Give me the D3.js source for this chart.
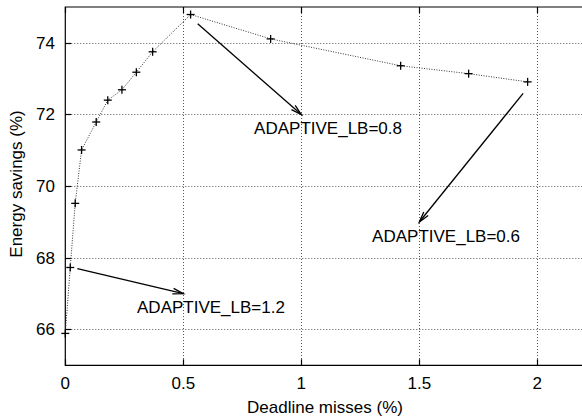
<!DOCTYPE html>
<html lang="en">
<head>
    <meta charset="UTF-8">
    <title>Energy savings vs deadline misses</title>
    <style>
        body { margin: 0; background: #fff; }
        svg { display: block; }
        text { font-family: "Liberation Sans", Arial, sans-serif; fill: #000; font-size: 17px; }
    </style>
</head>
<body>
    <svg id="chart" width="582" height="420"></svg>

    <script src="https://d3js.org/d3.v7.min.js"></script>
    <script>
        // measured series
        const missPct = [0, 0.021, 0.042, 0.069, 0.131, 0.18, 0.24, 0.301, 0.37, 0.531, 0.87, 1.421, 1.709, 1.959];
        const savingsPct = [65.89, 67.73, 69.52, 71.01, 71.79, 72.40, 72.69, 73.18, 73.75, 74.79, 74.11, 73.36, 73.14, 72.91];

        const xTicks = [0, 0.5, 1, 1.5, 2];
        const yTicks = [66, 68, 70, 72, 74];

        // annotations: label, label anchor, arrow from, arrow to
        const noteLabels = ["ADAPTIVE_LB=0.8", "ADAPTIVE_LB=0.6", "ADAPTIVE_LB=1.2"];
        const noteAt = [[0.80, 71.46], [1.30, 68.45], [0.304, 66.45]];
        const arrowFrom = [[0.561, 74.53], [1.94, 72.59], [0.051, 67.70]];
        const arrowTo = [[1.0, 72.0], [1.5, 69.0], [0.5, 67.0]];

        const plotLeft = 65.3, plotTop = 7, plotBottom = 365.3;

        const x = d3.scaleLinear().domain([0, 2.2]).range([plotLeft, plotLeft + 2.2 * 236]);
        const y = d3.scaleLinear().domain([65, 75]).range([plotBottom, plotTop]);

        const svg = d3.select("#chart");
        const plotRight = x.range()[1];

        // grid
        const grid = svg.append("g")
            .attr("stroke", "#555")
            .attr("stroke-width", 1)
            .attr("stroke-dasharray", "1,2");
        grid.selectAll(".gx")
            .data(xTicks.filter(d => d > 0))
            .enter().append("line")
            .attr("x1", d => Math.round(x(d)) + 0.5)
            .attr("x2", d => Math.round(x(d)) + 0.5)
            .attr("y1", plotTop).attr("y2", plotBottom);
        grid.selectAll(".gy")
            .data(yTicks)
            .enter().append("line")
            .attr("y1", d => Math.round(y(d)) + 0.5)
            .attr("y2", d => Math.round(y(d)) + 0.5)
            .attr("x1", plotLeft).attr("x2", plotRight);

        // frame
        const frame = svg.append("g").attr("stroke", "#000").attr("stroke-width", 1.2).attr("fill", "none");
        frame.append("path")
            .attr("d", `M${plotRight},${plotTop}H${plotLeft}V${plotBottom}H${plotRight}`);

        // ticks (inward, mirrored)
        xTicks.forEach(d => {
            const px = Math.round(x(d)) + 0.5;
            frame.append("line").attr("x1", px).attr("x2", px).attr("y1", plotBottom).attr("y2", plotBottom - 6);
            frame.append("line").attr("x1", px).attr("x2", px).attr("y1", plotTop).attr("y2", plotTop + 6);
        });
        yTicks.forEach(d => {
            const py = Math.round(y(d)) + 0.5;
            frame.append("line").attr("x1", plotLeft).attr("x2", plotLeft + 6).attr("y1", py).attr("y2", py);
        });

        // tick labels
        svg.selectAll(".xt")
            .data(xTicks)
            .enter().append("text")
            .attr("x", d => x(d))
            .attr("y", 389)
            .attr("text-anchor", "middle")
            .text(d => d);
        svg.selectAll(".yt")
            .data(yTicks)
            .enter().append("text")
            .attr("x", 55)
            .attr("y", d => y(d) + 6)
            .attr("text-anchor", "end")
            .text(d => d);

        // axis titles
        svg.append("text")
            .attr("x", 325).attr("y", 413)
            .attr("text-anchor", "middle")
            .text("Deadline misses (%)");
        svg.append("text")
            .attr("transform", "translate(22,184) rotate(-90)")
            .attr("text-anchor", "middle")
            .text("Energy savings (%)");

        // data line
        const pts = missPct.map((m, i) => [m, savingsPct[i]]);
        svg.append("path")
            .datum(pts)
            .attr("fill", "none")
            .attr("stroke", "#333")
            .attr("stroke-width", 1)
            .attr("stroke-dasharray", "1,1.5")
            .attr("d", d3.line().x(d => x(d[0])).y(d => y(d[1])));

        // markers
        const mk = svg.append("g").attr("stroke", "#000").attr("stroke-width", 1.3);
        pts.forEach(d => {
            const px = x(d[0]), py = y(d[1]);
            mk.append("line").attr("x1", px - 4).attr("x2", px + 4).attr("y1", py).attr("y2", py);
            mk.append("line").attr("x1", px).attr("x2", px).attr("y1", py - 4).attr("y2", py + 4);
        });

        // arrows
        const arr = svg.append("g").attr("stroke", "#000").attr("stroke-width", 1.3).attr("fill", "none");
        arrowFrom.forEach((f, i) => {
            const x1 = x(f[0]), y1 = y(f[1]);
            const x2 = x(arrowTo[i][0]), y2 = y(arrowTo[i][1]);
            const a = Math.atan2(y2 - y1, x2 - x1);
            const len = 11, spread = 0.26;
            arr.append("line").attr("x1", x1).attr("y1", y1).attr("x2", x2).attr("y2", y2);
            arr.append("path").attr("d",
                `M${x2 - len * Math.cos(a - spread)},${y2 - len * Math.sin(a - spread)}` +
                `L${x2},${y2}` +
                `L${x2 - len * Math.cos(a + spread)},${y2 - len * Math.sin(a + spread)}`);
        });

        // annotation labels
        svg.selectAll(".note")
            .data(noteLabels)
            .enter().append("text")
            .attr("x", (d, i) => x(noteAt[i][0]))
            .attr("y", (d, i) => y(noteAt[i][1]))
            .text(d => d);
    </script>
</body>
</html>
